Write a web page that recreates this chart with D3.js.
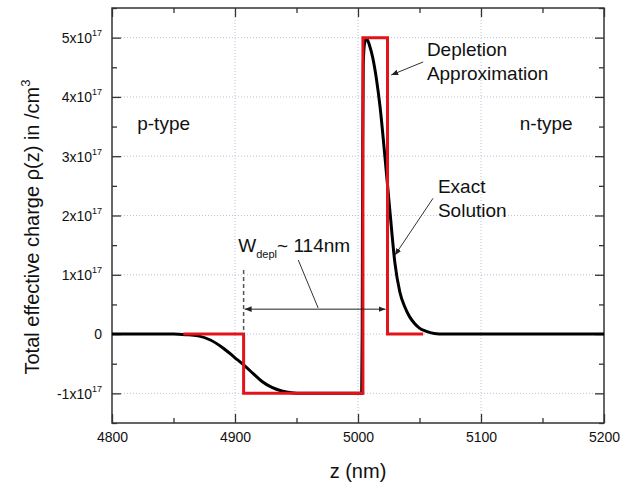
<!DOCTYPE html>
<html>
<head>
<meta charset="utf-8">
<script src="https://cdn.jsdelivr.net/npm/d3@7"></script>
<style>
  body { margin: 0; background: #fff; }
  text { font-family: "Liberation Sans", Arial, sans-serif; fill: #111; }
</style>
</head>
<body>
<div id="vis-container"></div>
<script>
// axis ticks (rho in units of 1e17 /cm^3)
var xTicks = [4800, 4900, 5000, 5100, 5200];
var xMinor = [4850, 4950, 5050, 5150];
var yTicks = [-1, 0, 1, 2, 3, 4, 5];
var yMinor = [-1.5, -0.5, 0.5, 1.5, 2.5, 3.5, 4.5, 5.5];

// depletion approximation (red)
var deplZ   = [4858, 4907, 4907, 5004, 5004, 5024, 5024, 5053];
var deplRho = [0,    0,    -1,   -1,   5,    5,    0,    0];

// exact solution (black)
var exactZ   = [4800, 4850, 4860, 4870, 4880, 4890, 4900, 4907, 4915, 4922, 4930, 4938, 4946, 4955, 5003,
                5003.4, 5003.8, 5004.3, 5005.3, 5007, 5009.5, 5012, 5015, 5018, 5022, 5026, 5030, 5034, 5038, 5042, 5046, 5050, 5055, 5062, 5070, 5200];
var exactRho = [0,    0,    -0.01, -0.03, -0.10, -0.23, -0.40, -0.52, -0.67, -0.80, -0.90, -0.96, -0.99, -1.0, -1.0,
                0,    3.2,  4.55, 4.9,  4.98, 4.86, 4.66, 4.3,  3.82, 2.97, 2.06, 1.2, 0.71, 0.46, 0.29, 0.18, 0.10, 0.05, 0.01, 0, 0];

var width = 639, height = 487;
var margin = {top: 8, right: 35, bottom: 64, left: 112};
var w = width - margin.left - margin.right;
var h = height - margin.top - margin.bottom;

var svg = d3.select("#vis-container").append("svg")
  .attr("width", width)
  .attr("height", height);

var defs = svg.append("defs");
defs.append("marker")
  .attr("id", "arr")
  .attr("viewBox", "0 0 10 10")
  .attr("refX", 10).attr("refY", 5)
  .attr("markerWidth", 7).attr("markerHeight", 7)
  .attr("markerUnits", "userSpaceOnUse")
  .attr("orient", "auto-start-reverse")
  .append("path").attr("d", "M0,1 L10,5 L0,9 Z").attr("fill", "#222");

var g = svg.append("g").attr("transform", "translate(" + margin.left + "," + margin.top + ")");

var x = d3.scaleLinear().domain([4800, 5200]).range([0, w]);
var y = d3.scaleLinear().domain([-1.5, 5.5]).range([h, 0]);

// dotted grid
g.selectAll(".gx").data(xTicks.slice(1, -1)).enter().append("line")
  .attr("x1", function(d) { return x(d); }).attr("x2", function(d) { return x(d); })
  .attr("y1", 0).attr("y2", h)
  .attr("stroke", "#b8c4d8").attr("stroke-width", 1).attr("stroke-dasharray", "1,2");
g.selectAll(".gy").data(yTicks).enter().append("line")
  .attr("x1", 0).attr("x2", w)
  .attr("y1", function(d) { return y(d); }).attr("y2", function(d) { return y(d); })
  .attr("stroke", "#b8c4d8").attr("stroke-width", 1).attr("stroke-dasharray", "1,2");

// axes with inward ticks on all four sides
function styleAxis(sel) {
  sel.select(".domain").remove();
  sel.selectAll(".tick line").attr("stroke", "#333").attr("stroke-width", 1.3);
  sel.selectAll("text").attr("font-size", 14).attr("fill", "#222")
    .attr("font-family", "Liberation Sans, Arial, sans-serif");
}

g.append("g").attr("transform", "translate(0," + h + ")")
  .call(d3.axisBottom(x).tickValues(xTicks).tickSize(-9).tickPadding(9).tickFormat(d3.format("d")))
  .call(styleAxis);
g.append("g").attr("transform", "translate(0," + h + ")")
  .call(d3.axisBottom(x).tickValues(xMinor).tickSize(-5).tickFormat(""))
  .call(styleAxis);
g.append("g")
  .call(d3.axisTop(x).tickValues(xTicks).tickSize(-9).tickFormat(""))
  .call(styleAxis);
g.append("g")
  .call(d3.axisTop(x).tickValues(xMinor).tickSize(-5).tickFormat(""))
  .call(styleAxis);

var yAxisG = g.append("g")
  .call(d3.axisLeft(y).tickValues(yTicks).tickSize(-9).tickPadding(10).tickFormat(""))
  .call(styleAxis);
g.append("g")
  .call(d3.axisLeft(y).tickValues(yMinor).tickSize(-5).tickFormat(""))
  .call(styleAxis);
g.append("g").attr("transform", "translate(" + w + ",0)")
  .call(d3.axisRight(y).tickValues(yTicks).tickSize(-9).tickFormat(""))
  .call(styleAxis);
g.append("g").attr("transform", "translate(" + w + ",0)")
  .call(d3.axisRight(y).tickValues(yMinor).tickSize(-5).tickFormat(""))
  .call(styleAxis);

// y tick labels as a x 10^17
yAxisG.selectAll(".tick").each(function(d) {
  var t = d3.select(this).append("text")
    .attr("x", -10).attr("dy", "0.35em")
    .attr("text-anchor", "end")
    .attr("font-size", 14).attr("fill", "#222");
  if (d === 0) {
    t.text("0");
  } else {
    t.append("tspan").text(d + "x10");
    t.append("tspan").attr("dy", -7).attr("font-size", 9).text("17");
  }
});

// frame
g.append("rect").attr("width", w).attr("height", h)
  .attr("fill", "none").attr("stroke", "#333").attr("stroke-width", 1.5);

// curves
var exactData = exactZ.map(function(z, i) { return [z, exactRho[i]]; });
var deplData = deplZ.map(function(z, i) { return [z, deplRho[i]]; });

g.append("path").datum(exactData)
  .attr("d", d3.line().x(function(d) { return x(d[0]); }).y(function(d) { return y(d[1]); }).curve(d3.curveMonotoneX))
  .attr("fill", "none").attr("stroke", "#000").attr("stroke-width", 3);

g.append("path").datum(deplData)
  .attr("d", d3.line().x(function(d) { return x(d[0]); }).y(function(d) { return y(d[1]); }))
  .attr("fill", "none").attr("stroke", "#e3121b").attr("stroke-width", 3).attr("stroke-linejoin", "miter");

// annotations
function label(z, r, str, size) {
  return g.append("text").attr("x", x(z)).attr("y", y(r)).attr("font-size", size || 19).text(str);
}
label(4820.5, 3.44, "p-type");
label(5131.5, 3.44, "n-type");
label(5056, 4.69, "Depletion");
label(5056, 4.28, "Approximation");
label(5065, 2.38, "Exact");
label(5065, 1.97, "Solution");

var wl = g.append("text").attr("x", x(4902.7)).attr("y", y(1.38)).attr("font-size", 19);
wl.append("tspan").text("W");
wl.append("tspan").attr("dy", 6).attr("font-size", 11).text("depl");
wl.append("tspan").attr("dy", -6).text("~ 114nm");

function pointer(z1, r1, z2, r2, arrow) {
  var l = g.append("line")
    .attr("x1", x(z1)).attr("y1", y(r1)).attr("x2", x(z2)).attr("y2", y(r2))
    .attr("stroke", "#333").attr("stroke-width", 1);
  if (arrow) l.attr("marker-end", "url(#arr)");
  return l;
}
pointer(5053, 4.59, 5027, 4.37, true);
pointer(5061, 2.29, 5030, 1.33, true);
pointer(4951.4, 1.25, 4967.6, 0.44, false);

// W_depl span
g.append("line")
  .attr("x1", x(deplZ[1]) + 1).attr("x2", x(deplZ[5]) - 2)
  .attr("y1", y(0.42)).attr("y2", y(0.42))
  .attr("stroke", "#222").attr("stroke-width", 1)
  .attr("marker-start", "url(#arr)").attr("marker-end", "url(#arr)");
g.append("line")
  .attr("x1", x(deplZ[1])).attr("x2", x(deplZ[1]))
  .attr("y1", y(1.08)).attr("y2", y(0))
  .attr("stroke", "#555").attr("stroke-width", 1.5).attr("stroke-dasharray", "4,3");

// axis titles
svg.append("text")
  .attr("x", margin.left + w / 2).attr("y", 478)
  .attr("text-anchor", "middle").attr("font-size", 20)
  .text("z (nm)");

var yt = svg.append("text")
  .attr("transform", "translate(39,227) rotate(-90)")
  .attr("text-anchor", "middle").attr("font-size", 20);
yt.append("tspan").text("Total effective charge \u03c1(z) in /cm");
yt.append("tspan").attr("dy", -9).attr("font-size", 13).text("3");
</script>
</body>
</html>
